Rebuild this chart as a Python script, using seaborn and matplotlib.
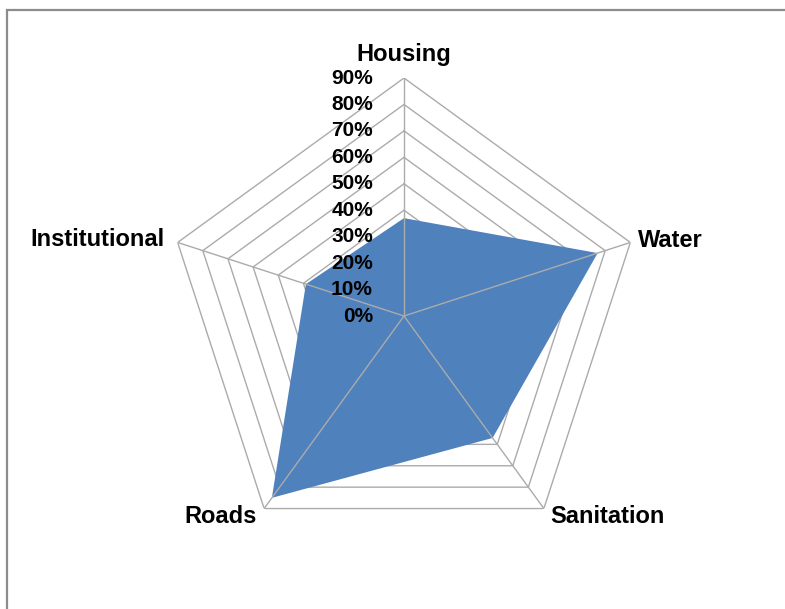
import numpy as np
import matplotlib
matplotlib.use("Agg")
import matplotlib.pyplot as plt
import seaborn as sns
from matplotlib.patches import Rectangle

# ---- data ----
categories = ["Housing", "Water", "Sanitation", "Roads", "Institutional"]
values = [37, 77, 57, 85, 39]
tick_values = [0, 10, 20, 30, 40, 50, 60, 70, 80, 90]
tick_labels = ["0%", "10%", "20%", "30%", "40%", "50%", "60%", "70%", "80%", "90%"]

sns.set_theme(style="white")
plt.rcParams["font.family"] = ["Liberation Sans", "DejaVu Sans"]

fill_color = "#4F81BD"
grid_color = "#ABABAB"

fig = plt.figure(figsize=(7.85, 6.09), dpi=100)
fig.patch.set_facecolor("white")

# border (chart area frame)
fig.patches.append(Rectangle((6.5 / 785, -0.5), 1.5, 0.5 + (1 - 10 / 609),
                             transform=fig.transFigure, fill=False,
                             edgecolor="#8C8C8C", lw=1.6, zorder=0))

ax = fig.add_axes([166 / 785, 55 / 609, 476 / 785, 476 / 609], projection="polar")
ax.set_theta_zero_location("N")
ax.set_theta_direction(-1)
ax.set_ylim(0, max(tick_values))
ax.grid(False)
ax.spines["polar"].set_visible(False)
ax.set_xticks([])
ax.set_yticks([])
ax.patch.set_alpha(0)

n = len(categories)
angles = np.linspace(0, 2 * np.pi, n, endpoint=False)
closed = np.concatenate([angles, angles[:1]])

# polygon rings
for r in tick_values[1:]:
    ax.plot(closed, [r] * (n + 1), color=grid_color, lw=1.0, zorder=1)

# data area
vals = np.array(values + values[:1], dtype=float)
ax.fill(closed, vals, color=fill_color, lw=0, zorder=2)

# spokes
for a in angles:
    ax.plot([a, a], [0, max(tick_values)], color=grid_color, lw=1.0, zorder=3)

# radial tick labels
for v, lab in zip(tick_values, tick_labels):
    ax.annotate(lab, xy=(0, v), xytext=(-31, 0), textcoords="offset pixels",
                ha="right", va="center", fontsize=15, fontweight="bold",
                color="black", annotation_clip=False, zorder=4)

# category labels
label_style = {
    "Housing": ((0, 23), "center", "center"),
    "Water": ((8, 2), "left", "center"),
    "Sanitation": ((6, -8), "left", "center"),
    "Roads": ((-7, -8), "right", "center"),
    "Institutional": ((-13, 3), "right", "center"),
}
for a, cat in zip(angles, categories):
    off, ha, va = label_style[cat]
    ax.annotate(cat, xy=(a, max(tick_values)), xytext=off, textcoords="offset pixels",
                ha=ha, va=va, fontsize=17, fontweight="bold", color="black",
                annotation_clip=False, zorder=4)

fig.savefig("out.png", dpi=100, facecolor="white")
